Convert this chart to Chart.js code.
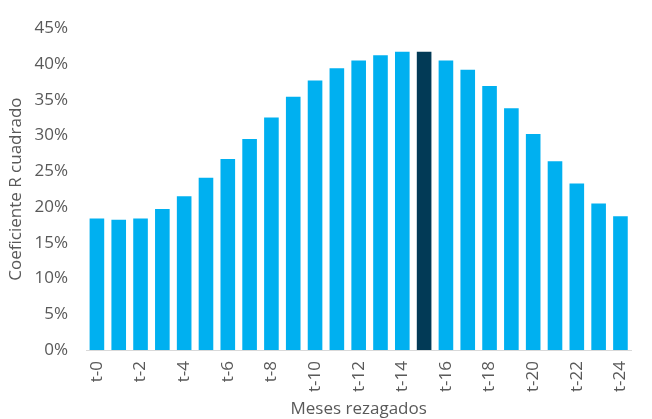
<!DOCTYPE html>
<html>
<head>
<meta charset="utf-8">
<script src="https://cdn.jsdelivr.net/npm/chart.js@4"></script>
<style>
  html, body { margin: 0; padding: 0; background: #fff; }
  #wrap { width: 652px; height: 419px; }
</style>
</head>
<body>
<div id="wrap"><canvas id="myChart" width="652" height="419"></canvas></div>
<script>
// meses de rezago t-0 ... t-24
const rezagos = ['t-0','t-1','t-2','t-3','t-4','t-5','t-6','t-7','t-8','t-9','t-10','t-11','t-12',
  't-13','t-14','t-15','t-16','t-17','t-18','t-19','t-20','t-21','t-22','t-23','t-24'];
// R cuadrado por rezago (%)
const rCuadrado = [18.4, 18.2, 18.4, 19.7, 21.5, 24.1, 26.7, 29.5, 32.5, 35.4, 37.7, 39.4, 40.5,
  41.2, 41.7, 41.7, 40.5, 39.2, 36.9, 33.8, 30.2, 26.4, 23.3, 20.5, 18.7];
const rezagoMax = 't-15';

const azul = '#00b0f0';
const azulOscuro = '#023a56';
const gris = '#595959';

function createChart() {
  const ctx = document.getElementById('myChart').getContext('2d');
  new Chart(ctx, {
    type: 'bar',
    data: {
      labels: rezagos,
      datasets: [{
        data: rCuadrado,
        backgroundColor: rezagos.map(r => r === rezagoMax ? azulOscuro : azul),
        categoryPercentage: 1,
        barPercentage: 0.67
      }]
    },
    options: {
      responsive: false,
      animation: false,
      layout: { padding: { top: 25, right: 8, left: 0, bottom: 0 } },
      plugins: {
        legend: { display: false },
        tooltip: { enabled: false }
      },
      scales: {
        x: {
          grid: { display: false, drawTicks: false },
          border: { display: true, color: '#d9d9d9', width: 1 },
          ticks: {
            color: gris,
            font: { family: 'Open Sans', size: 17 },
            autoSkip: false,
            maxRotation: 90,
            minRotation: 90,
            padding: 11,
            callback: function(v, i) { return i % 2 === 0 ? this.getLabelForValue(v) : ''; }
          },
          title: {
            display: true,
            text: 'Meses rezagados',
            color: gris,
            font: { family: 'Open Sans', size: 17 },
            padding: { top: 0, bottom: 0 }
          },
          afterFit: s => { s.height = 69; }
        },
        y: {
          min: 0,
          max: 45,
          grid: { display: false, drawTicks: false },
          border: { display: false },
          ticks: {
            stepSize: 5,
            color: gris,
            font: { family: 'Open Sans', size: 17 },
            padding: 18,
            callback: v => v + '%'
          },
          title: {
            display: true,
            text: 'Coeficiente R cuadrado',
            color: gris,
            font: { family: 'Open Sans', size: 17 },
            padding: { top: 6, bottom: 0 }
          },
          afterFit: s => { s.width = 86; }
        }
      }
    }
  });
}

createChart();
</script>
</body>
</html>
